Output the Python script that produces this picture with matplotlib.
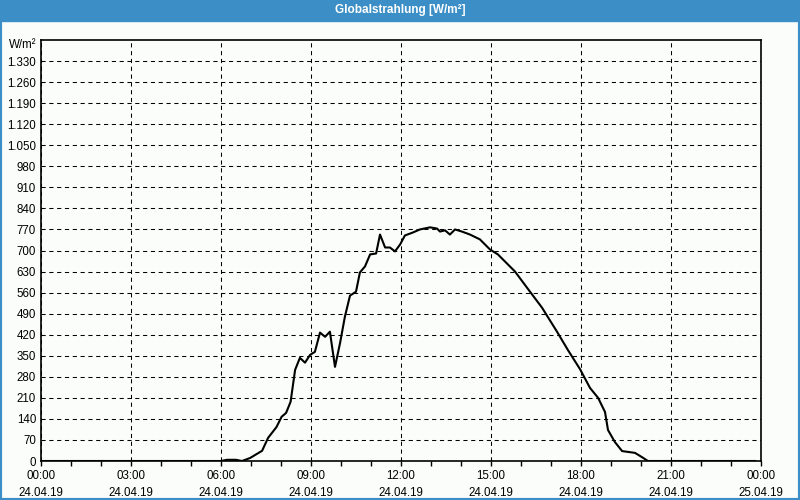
import numpy as np
import matplotlib.pyplot as plt
from matplotlib.patches import Rectangle

# Time of day in hours, irradiance in W/m²
hours = [0.0, 6.0, 6.2, 6.5, 6.7, 6.97, 7.37, 7.57, 7.85, 8.02, 8.17, 8.32, 8.47, 8.63,
         8.8, 8.97, 9.13, 9.3, 9.47, 9.63, 9.8, 9.97, 10.13, 10.3, 10.5, 10.63, 10.8,
         10.97, 11.17, 11.3, 11.47, 11.63, 11.8, 11.97, 12.13, 12.4, 12.63, 12.97, 13.2,
         13.3, 13.47, 13.63, 13.8, 14.03, 14.3, 14.63, 14.97, 15.23, 15.4, 15.8, 16.3,
         16.7, 17.2, 17.57, 17.97, 18.3, 18.57, 18.8, 18.9, 19.13, 19.37, 19.8, 20.03,
         20.23, 23.8]
watts = [0, 0, 4, 4, 0, 10, 34, 77, 113, 147, 160, 197, 303, 343,
         327, 353, 363, 427, 413, 430, 313, 393, 480, 550, 563, 627, 647,
         687, 690, 753, 710, 710, 697, 720, 750, 760, 770, 777, 773,
         763, 767, 753, 770, 763, 753, 737, 703, 687, 670, 630, 563,
         510, 430, 368, 305, 243, 210, 163, 103, 63, 33, 27, 13,
         0, 0]

xticks = [0, 3, 6, 9, 12, 15, 18, 21, 24]
xlabels = ["00:00\n24.04.19", "03:00\n24.04.19", "06:00\n24.04.19", "09:00\n24.04.19",
           "12:00\n24.04.19", "15:00\n24.04.19", "18:00\n24.04.19", "21:00\n24.04.19",
           "00:00\n25.04.19"]
yticks = list(range(0, 1400, 70))

blue = "#3c8fc6"
bg = "#fbfdfb"
font = "Liberation Sans"

fig = plt.figure(figsize=(8, 5), dpi=100, facecolor=bg)
ax = fig.add_axes([41 / 800, 39 / 500, 720 / 800, 421 / 500], facecolor=bg)

ax.plot(hours, watts, color="black", linewidth=1.5)

ax.set_xlim(0, 24)
ax.set_ylim(0, 1400)
ax.set_xticks(xticks)
ax.set_xticklabels(xlabels, fontsize=8.3, family=font, linespacing=1.5)
ax.set_xticks([h for h in range(1, 24) if h % 3], minor=True)
ax.set_yticks(yticks)
ax.set_yticklabels([f"{v:,}".replace(",", ".") for v in yticks], fontsize=8.3, family=font)
ax.tick_params(axis="x", which="both", direction="out", length=3.5, width=1, pad=3)
ax.tick_params(axis="y", length=0, pad=3.5)
ax.grid(True, color="black", linestyle=(0, (4, 3.5)), linewidth=0.75)
for s in ax.spines.values():
    s.set_linewidth(1.2)

fig.text(36 / 800, 1 - 45 / 500, "W/m²", fontsize=8.3, family=font, ha="right", va="center")

# window frame and title bar
fig.patches.append(Rectangle((0, 1 - 21 / 500), 1, 21 / 500, transform=fig.transFigure,
                             color=blue, zorder=0))
fig.patches.append(Rectangle((0, 0), 1, 1, transform=fig.transFigure, fill=False,
                             edgecolor=blue, linewidth=3))
fig.text(0.5, 1 - 10 / 500, "Globalstrahlung [W/m²]", color="white", fontsize=8.5,
         family=font, fontweight="bold", ha="center", va="center")

fig.savefig("out.png", dpi=100, facecolor=bg)
